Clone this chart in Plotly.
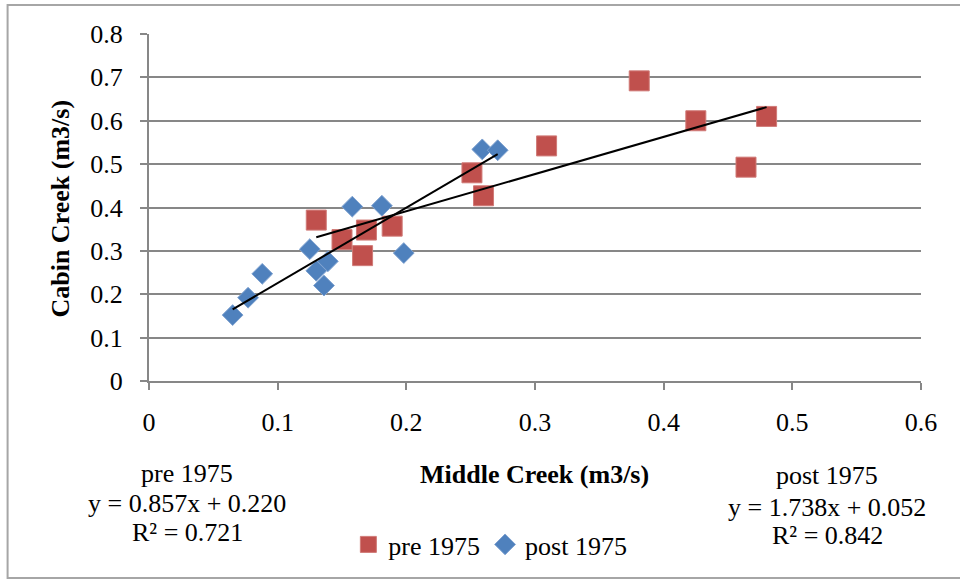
import plotly.graph_objects as go
import numpy as np

# Data
pre_x = [0.130, 0.150, 0.169, 0.189, 0.166, 0.251, 0.260, 0.309, 0.381, 0.425, 0.480, 0.464]
pre_y = [0.371, 0.326, 0.348, 0.357, 0.289, 0.480, 0.427, 0.542, 0.692, 0.600, 0.610, 0.493]
post_x = [0.065, 0.077, 0.088, 0.125, 0.130, 0.139, 0.136, 0.158, 0.181, 0.198, 0.259, 0.271]
post_y = [0.152, 0.192, 0.247, 0.304, 0.254, 0.276, 0.220, 0.402, 0.404, 0.295, 0.534, 0.532]

pre_fit = {"slope": 0.857, "intercept": 0.220, "r2": 0.721}
post_fit = {"slope": 1.738, "intercept": 0.052, "r2": 0.842}

x_ticks = [0, 0.1, 0.2, 0.3, 0.4, 0.5, 0.6]
y_ticks = [0, 0.1, 0.2, 0.3, 0.4, 0.5, 0.6, 0.7, 0.8]

RED = "#C0504D"
BLUE = "#4F81BD"
GRID = "#878787"
FONT = "Liberation Serif"
FS = 26

# layout geometry (pixels)
W, H = 960, 580
L, R, T, B = 148.5, 39, 34, 199
PW, PH = W - L - R, H - T - B


def px(x):
    return (x - L) / PW


def py(y):
    return (H - B - y) / PH


fig = go.Figure()
fig.add_trace(go.Scatter(x=pre_x, y=pre_y, mode="markers", name="pre 1975",
                         marker=dict(symbol="square", size=20, color=RED,
                                     line=dict(width=1, color="#D07A77"))))
fig.add_trace(go.Scatter(x=post_x, y=post_y, mode="markers", name="post 1975",
                         marker=dict(symbol="diamond", size=16, color=BLUE,
                                     line=dict(width=1, color="#7FA2D0"))))

for xs, fit in ((pre_x, pre_fit), (post_x, post_fit)):
    lx = np.array([min(xs), max(xs)])
    ly = fit["slope"] * lx + fit["intercept"]
    fig.add_trace(go.Scatter(x=lx, y=ly, mode="lines", showlegend=False,
                             line=dict(color="black", width=2), hoverinfo="skip"))

axis_common = dict(showgrid=False, showline=True, linecolor=GRID, linewidth=2,
                   ticks="outside", ticklen=7, tickcolor=GRID, tickwidth=2,
                   tickfont=dict(family=FONT, size=FS, color="black"),
                   zeroline=False)
fig.update_xaxes(range=[0, 0.6], tickvals=x_ticks, ticktext=[f"{v:g}" for v in x_ticks],
                 ticklabelstandoff=10, **axis_common)
fig.update_yaxes(range=[0, 0.8], tickvals=y_ticks, ticktext=[f"{v:g}" for v in y_ticks],
                 showgrid=True, gridcolor=GRID, gridwidth=2,
                 ticklabelstandoff=12,
                 **{k: v for k, v in axis_common.items() if k != "showgrid"})

ann = []
ann.append(dict(text="<b>Middle Creek (m3/s)</b>", x=px(534), y=py(474)))
ann.append(dict(text="<b>Cabin Creek (m3/s)</b>", x=px(59), y=py(209), textangle=-90))
left_lines = ["pre 1975", f"y = {pre_fit['slope']:.3f}x + {pre_fit['intercept']:.3f}",
              f"R² = {pre_fit['r2']:.3f}"]
right_lines = ["post 1975", f"y = {post_fit['slope']:.3f}x + {post_fit['intercept']:.3f}",
               f"R² = {post_fit['r2']:.3f}"]
for t, yy in zip(left_lines, [473, 503, 532]):
    ann.append(dict(text=t, x=px(187), y=py(yy)))
for t, yy in zip(right_lines, [476, 507, 535]):
    ann.append(dict(text=t, x=px(827), y=py(yy)))
for a in ann:
    a.update(xref="paper", yref="paper", showarrow=False, xanchor="center",
             yanchor="middle", font=dict(family=FONT, size=FS, color="black"))

fig.update_layout(
    width=W, height=H,
    margin=dict(l=L, r=R, t=T, b=B, autoexpand=False),
    paper_bgcolor="white", plot_bgcolor="white",
    font=dict(family=FONT, size=FS, color="black"),
    annotations=ann,
    showlegend=True,
    legend=dict(orientation="h", x=px(348), y=py(521), xanchor="left", yanchor="top",
                font=dict(family=FONT, size=FS, color="black"),
                itemwidth=30, tracegroupgap=0, bgcolor="rgba(0,0,0,0)"),
    shapes=[dict(type="rect", xref="paper", yref="paper",
                 x0=px(7), x1=px(975), y0=py(578), y1=py(5),
                 line=dict(color="#A6A6A6", width=2), layer="below")],
)

fig.write_html("out.html")
